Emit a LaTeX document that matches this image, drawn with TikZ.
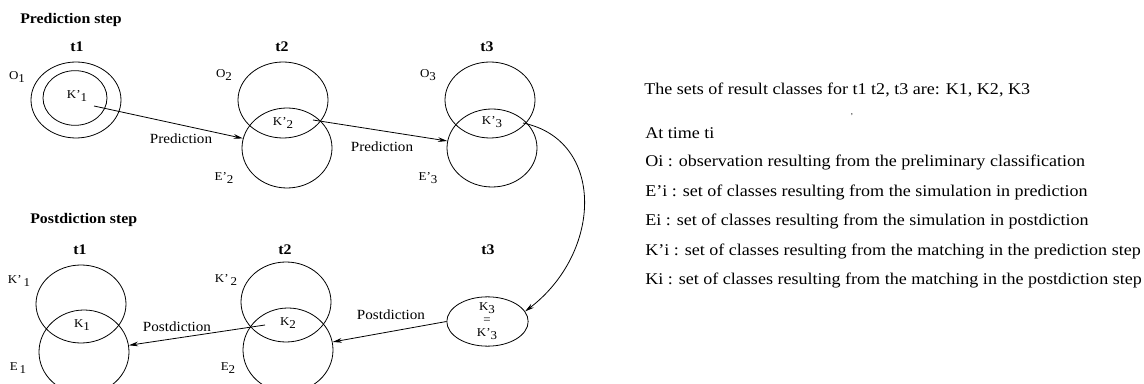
\documentclass[tikz,border=0pt]{standalone}
\usepackage{fontspec}
\setmainfont[FakeStretch=1.08]{Liberation Serif}
\newfontfamily\legfont[FakeStretch=1.1,Ligatures=TeX]{Liberation Serif}
\usetikzlibrary{shapes.geometric,arrows.meta}
\newcommand\lsub[2]{#1\raisebox{-0.3em}{#2}}
\begin{document}
\begin{tikzpicture}[x=0.75pt,y=-0.75pt,
  set/.style={ellipse,draw,line width=0.6pt,inner sep=0pt},
  lbl/.style={font=\fontsize{9}{10}\selectfont,inner sep=1pt},
  arrlbl/.style={font=\fontsize{10.5}{12}\selectfont,inner sep=1pt},
  ttl/.style={font=\fontsize{11}{12}\selectfont\bfseries,inner sep=0pt},
  arr/.style={-{Stealth[length=7pt,width=3.5pt]},line width=0.6pt},
  txt/.style={font=\legfont\fontsize{12.3}{13}\selectfont,anchor=west,inner sep=0pt}]
\useasboundingbox (0,0) rectangle (1144,384);
\clip (0,0) rectangle (1144,384);

% ---------- Prediction step ----------
\node[ttl,anchor=west] (predttl) at (20,20) {Prediction step};
\node[ttl] (pt1) at (77,47) {t1};
\node[ttl] (pt2) at (282,47) {t2};
\node[ttl] (pt3) at (487,47) {t3};

\node[set,minimum width=67.5pt,minimum height=57pt] (O1) at (76,100) {};
\node[set,minimum width=48pt,minimum height=41pt] (K1pset) at (75,98) {};
\node[lbl] (o1l) at (17,77) {\lsub{O}{1}};
\node[lbl] (k1p) at (77,96) {K'\raisebox{-0.3em}{1}};

\node[set,minimum width=67.5pt,minimum height=57pt] (O2) at (283,100) {};
\node[set,minimum width=67.5pt,minimum height=60pt] (E2p) at (287,148) {};
\node[lbl] (o2l) at (224,75) {\lsub{O}{2}};
\node[lbl] (e2pl) at (224,178) {E'\raisebox{-0.3em}{2}};
\node[lbl] (k2p) at (283,123) {K'\raisebox{-0.3em}{2}};

\node[set,minimum width=67.5pt,minimum height=57pt] (O3) at (490,100) {};
\node[set,minimum width=67.5pt,minimum height=58.5pt] (E3p) at (492,148) {};
\node[lbl] (o3l) at (428,75) {\lsub{O}{3}};
\node[lbl] (e3pl) at (428,178) {E'\raisebox{-0.3em}{3}};
\node[lbl] (k3p) at (492,122) {K'\raisebox{-0.3em}{3}};

\coordinate (s1) at (94,106);
\coordinate (s2) at (313,120);
\coordinate (s3) at (523,123);
\draw[arr] (s1) -- (E2p);
\draw[arr] (s2) -- (E3p);
\node[arrlbl] (pred1) at (181,139) {Prediction};
\node[arrlbl] (pred2) at (382,147) {Prediction};

% ---------- Postdiction step ----------
\node[ttl,anchor=west] (postttl) at (30,220) {Postdiction step};
\node[ttl] (qt1) at (80,250) {t1};
\node[ttl] (qt2) at (285,250) {t2};
\node[ttl] (qt3) at (488,250) {t3};

\node[set,minimum width=67.5pt,minimum height=58.5pt] (K1pb) at (81,304) {};
\node[set,minimum width=67.5pt,minimum height=63pt] (E1) at (84,352) {};
\node[lbl] (k1pbl) at (19,281) {K'\,\raisebox{-0.3em}{1}};
\node[lbl] (e1l) at (18,368) {\lsub{E}{\,1}};
\node[lbl] (k1) at (82,325) {\lsub{K}{1}};

\node[set,minimum width=67.5pt,minimum height=60pt] (K2pb) at (286,302) {};
\node[set,minimum width=67.5pt,minimum height=63pt] (E2) at (288,350) {};
\node[lbl] (k2pbl) at (226,280) {K'\,\raisebox{-0.3em}{2}};
\node[lbl] (e2l) at (228,368) {\lsub{E}{2}};
\node[lbl] (k2) at (288,323) {\lsub{K}{2}};

\node[set,minimum width=61pt,minimum height=37pt] (K3e) at (487.5,321.5) {};
\node[lbl,align=center,font=\fontsize{9}{9.8}\selectfont] (k3t) at (487,321) {\lsub{K}{3}\\=\\K'\raisebox{-0.3em}{3}};

\coordinate (s4) at (265,325);
\draw[arr] (s4) -- (E1);
\draw[arr] (K3e.west) -- (E2);
\node[arrlbl] (post1) at (177,327) {Postdiction};
\node[arrlbl] (post2) at (391,315) {Postdiction};

\draw[arr] (s3) .. controls (605,140) and (603,252) .. (K3e.15);

% ---------- Legend ----------
\node[txt] (leg0) at (644,90) {The sets of result classes for t1 t2, t3 are: K1, K2, K3};
\node[font=\fontsize{6}{6}\selectfont,inner sep=0pt] (speck) at (852,115) {,};
\node[txt] (leg1) at (645,133) {At time ti};
\node[txt] (leg2) at (645,162) {Oi : observation resulting from the preliminary classification};
\node[txt] (leg3) at (645,192) {E'i : set of classes resulting from the simulation in prediction};
\node[txt] (leg4) at (645,221) {Ei : set of classes resulting from the simulation in postdiction};
\node[txt] (leg5) at (645,251) {K'i : set of classes resulting from the matching in the prediction step};
\node[txt] (leg6) at (645,280) {Ki : set of classes resulting from the matching in the postdiction step};
\end{tikzpicture}
\end{document}
